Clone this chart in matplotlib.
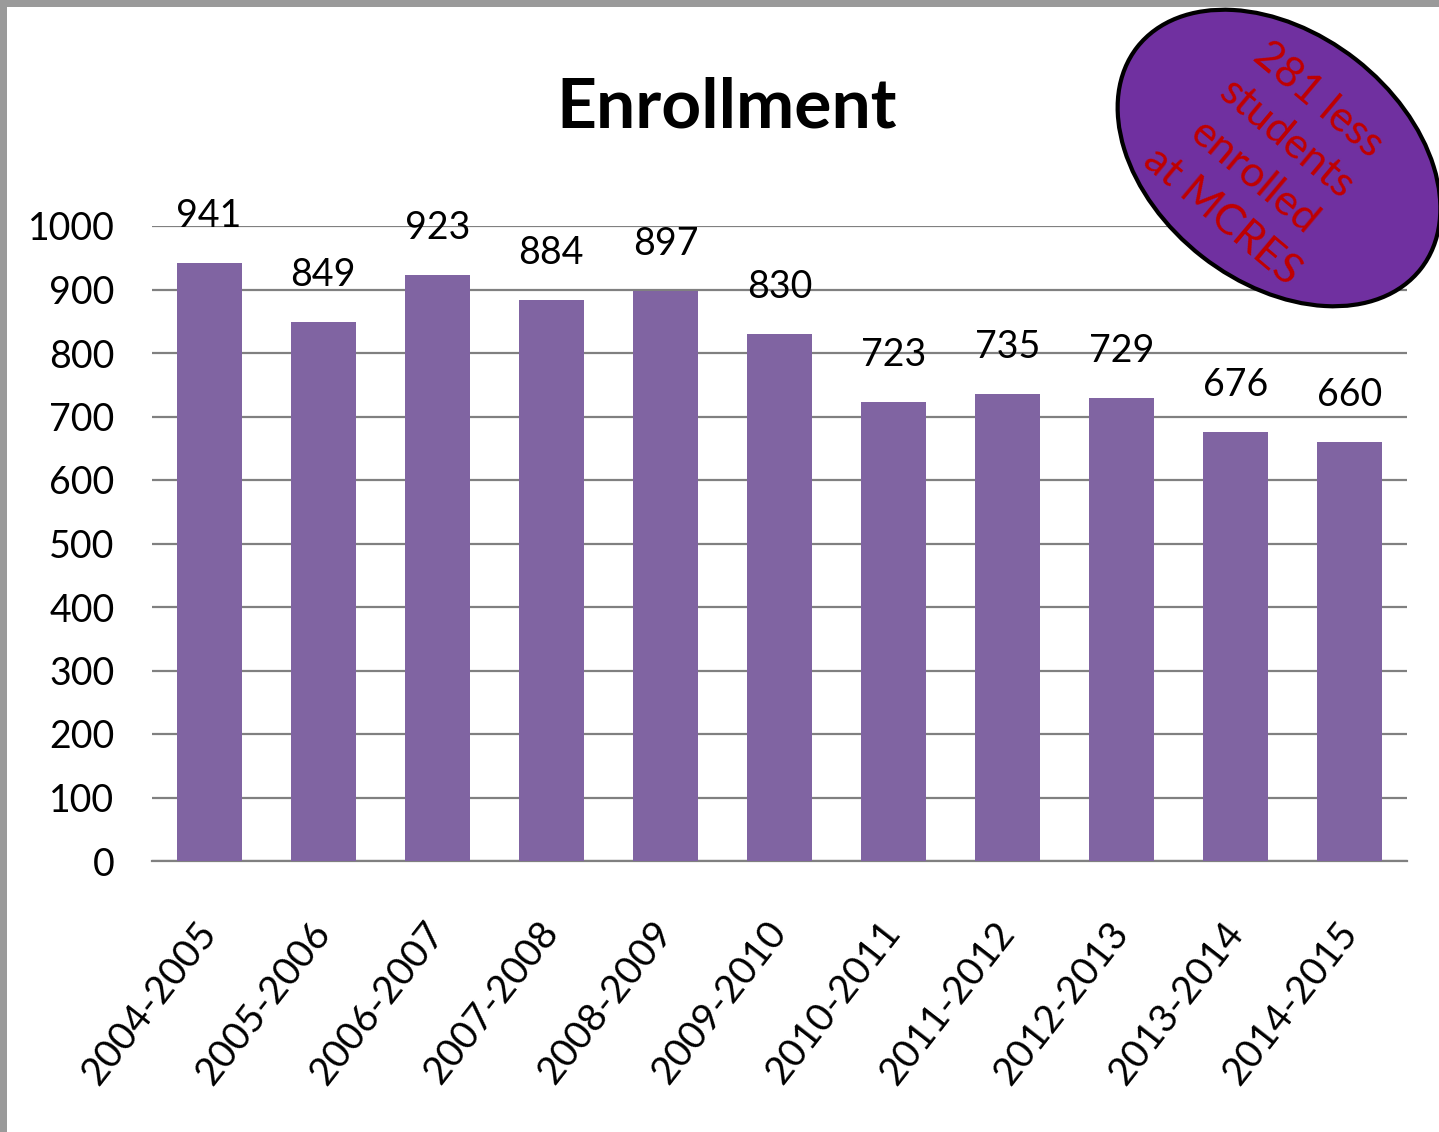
import matplotlib
matplotlib.use('Agg')
import matplotlib.pyplot as plt
from matplotlib.patches import Ellipse, Rectangle

# Donnees
years = ["2004-2005", "2005-2006", "2006-2007", "2007-2008", "2008-2009",
         "2009-2010", "2010-2011", "2011-2012", "2012-2013", "2013-2014", "2014-2015"]
enrollment = [941, 849, 923, 884, 897, 830, 723, 735, 729, 676, 660]
y_ticks = [0, 100, 200, 300, 400, 500, 600, 700, 800, 900, 1000]
note_lines = ["281 less", "students", "enrolled", "at MCRES"]

plt.rcParams['font.family'] = ['Lato', 'DejaVu Sans']

W, H = 1439, 1132
fig = plt.figure(figsize=(W / 100, H / 100), dpi=100)
fig.patch.set_facecolor('white')

ax = fig.add_axes([152 / W, 1 - 861 / H, (1407 - 152) / W, (861 - 226) / H])
x = list(range(len(years)))
ax.bar(x, enrollment, width=0.57, color='#8064A2', zorder=3)
ax.set_xlim(-0.5, len(years) - 0.5)
ax.set_ylim(0, 1000)
ax.set_yticks(y_ticks)
ax.set_yticklabels([str(v) for v in y_ticks], fontsize=27)
ax.set_xticks(x)
ax.set_xticklabels(years, fontsize=28, rotation=52, ha='right', va='center',
                   rotation_mode='anchor')
ax.tick_params(axis='y', length=0, pad=27)
ax.tick_params(axis='x', length=0, pad=47)
ax.grid(axis='y', color='#808080', linewidth=1.6, zorder=0)
for s in ['top', 'right', 'left']:
    ax.spines[s].set_visible(False)
ax.spines['bottom'].set_color('#808080')
ax.spines['bottom'].set_linewidth(1.6)

# Etiquettes de valeurs
for xi, v in zip(x, enrollment):
    ax.annotate(str(v), (xi, v), xytext=(0, 26), textcoords='offset points',
                ha='center', va='baseline', fontsize=27)

fig.text(727 / W, 1 - 108 / H, "Enrollment", ha='center', va='center',
         fontsize=50, fontweight='bold')

# Calque en pixels pour le cadre et la bulle
over = fig.add_axes([0, 0, 1, 1], zorder=10)
over.set_xlim(0, W)
over.set_ylim(H, 0)
over.axis('off')
over.patch.set_alpha(0)
over.add_patch(Rectangle((0, 0), W, 7, color='#9a9a9a', lw=0))
over.add_patch(Rectangle((0, 0), 7, H, color='#9a9a9a', lw=0))
over.add_patch(Ellipse((1279, 158), 360, 250, angle=38, facecolor='#7030A0',
                       edgecolor='black', linewidth=3))
over.text(1270, 158, "\n".join(note_lines), rotation=-40, ha='center', va='center',
          multialignment='center', color='#C00000', fontsize=31, linespacing=1.4,
          rotation_mode='anchor')

fig.savefig('out.png', dpi=100)
